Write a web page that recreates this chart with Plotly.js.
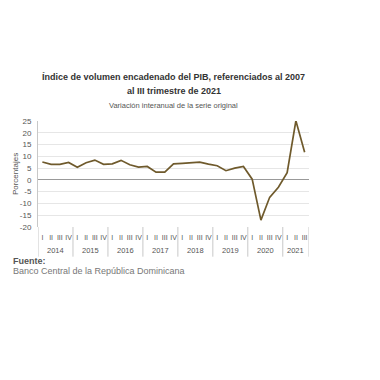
<!DOCTYPE html>
<html>
<head>
<meta charset="utf-8">
<script src="https://cdn.plot.ly/plotly-3.0.1.min.js"></script>
<style>html,body{margin:0;padding:0;background:#fff;}#chart{width:380px;height:380px;}</style>
</head>
<body>
<div id="chart"></div>
<script>
const years = ['2014','2015','2016','2017','2018','2019','2020','2021'];
const quarters = ['I','II','III','IV'];
const quartersPerYear = [4,4,4,4,4,4,4,3];
const values = [7.6, 6.6, 6.6, 7.4, 5.4, 7.3, 8.4, 6.6, 6.8, 8.3, 6.4, 5.4, 5.7, 3.3, 3.3, 6.8, 7.0, 7.4, 7.5, 6.7, 6.0, 3.9, 5.0, 5.7, 0.3, -17.1, -7.4, -3.1, 3.1, 25.1, 11.7];
const yTicks = [-20,-15,-10,-5,0,5,10,15,20,25];

const font = 'Liberation Sans, Arial, sans-serif';
const idx = [], qLabels = [];
const annotations = [], shapes = [];
let pos = 0;
years.forEach((y, i) => {
  const n = quartersPerYear[i];
  const start = pos;
  for (let q = 0; q < n; q++) { idx.push(pos); qLabels.push(quarters[q]); pos++; }
  annotations.push({text: y, xref: 'x', yref: 'paper', x: (start + pos - 1) / 2, y: -0.224, yanchor: 'middle', showarrow: false,
    font: {family: font, size: 7.5, color: '#555'}});
  shapes.push({type: 'line', xref: 'x', yref: 'paper', x0: start - 0.5, x1: start - 0.5, y0: 0, y1: -0.28,
    line: {color: '#c8c8c8', width: 1}});
});
shapes.push({type: 'line', xref: 'x', yref: 'paper', x0: pos - 0.5, x1: pos - 0.5, y0: 0, y1: -0.28,
  line: {color: '#c8c8c8', width: 1}});

const trace = {
  x: idx, y: values, type: 'scatter', mode: 'lines',
  line: {color: '#6f5a2c', width: 1.7}, hoverinfo: 'skip'
};
const layout = {
  width: 380, height: 380,
  margin: {l: 38, r: 71, t: 121, b: 153},
  paper_bgcolor: '#fff', plot_bgcolor: '#fff',
  showlegend: false,
  font: {family: font, size: 8, color: '#555'},
  xaxis: {
    range: [-0.5, pos - 0.5], tickvals: idx, ticktext: qLabels, tickangle: 0,
    showgrid: false, showline: false, zeroline: false, ticks: '', automargin: false,
    ticklabelstandoff: 5,
    tickfont: {family: font, size: 7, color: '#555'}
  },
  yaxis: {
    range: [-20, 25], tickvals: yTicks, ticktext: yTicks.map(String), automargin: false,
    showgrid: true, gridcolor: '#e6e6e6', gridwidth: 1,
    zeroline: true, zerolinecolor: '#999', zerolinewidth: 1,
    showline: true, linecolor: '#c8c8c8', linewidth: 1,
    ticks: '', ticklabelstandoff: 4, tickfont: {family: font, size: 8, color: '#555'},
    title: {text: 'Porcentajes', font: {family: font, size: 8, color: '#555'}, standoff: 0}
  },
  shapes: shapes,
  annotations: annotations.concat([
    {text: '<b>Índice de volumen encadenado del PIB, referenciados al 2007</b>', xref: 'paper', yref: 'paper', x: 0.5, y: 1.415, yanchor: 'middle', showarrow: false, font: {family: font, size: 9, color: '#333'}},
    {text: '<b>al III trimestre de 2021</b>', xref: 'paper', yref: 'paper', x: 0.5, y: 1.283, yanchor: 'middle', showarrow: false, font: {family: font, size: 9, color: '#333'}},
    {text: 'Variación interanual de la serie original', xref: 'paper', yref: 'paper', x: 0.5, y: 1.142, yanchor: 'middle', showarrow: false, font: {family: font, size: 7.5, color: '#555'}},
    {text: '<b>Fuente:</b>', xref: 'paper', yref: 'paper', x: -0.1, xanchor: 'left', y: -0.317, yanchor: 'middle', showarrow: false, font: {family: font, size: 9, color: '#555'}},
    {text: 'Banco Central de la República Dominicana', xref: 'paper', yref: 'paper', x: -0.1, xanchor: 'left', y: -0.412, yanchor: 'middle', showarrow: false, font: {family: font, size: 9, color: '#777'}}
  ])
};
Plotly.newPlot('chart', [trace], layout, {displayModeBar: false, staticPlot: true});
</script>
</body>
</html>
